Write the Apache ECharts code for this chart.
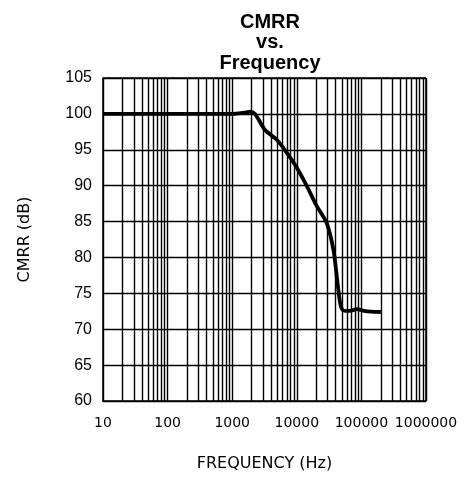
<!DOCTYPE html>
<html>
<head>
<meta charset="utf-8">
<script src="https://cdn.jsdelivr.net/npm/echarts@6/dist/echarts.min.js"></script>
<style>
  html, body { margin: 0; padding: 0; background: #fff; }
  #chart { width: 470px; height: 479px; }
</style>
</head>
<body>
<div id="chart"></div>
<script>
// CMRR measured against frequency
var frequencyHz = [10, 100, 1000, 1500, 1900, 2250, 3200, 4900, 6500, 9400, 14000, 20000, 29000, 37000, 42000, 46500, 50000, 56000, 70000, 85000, 110000, 140000, 200000];
var cmrrDb = [100, 100, 100, 100.15, 100.3, 100.0, 97.8, 96.4, 95.0, 92.9, 90.1, 87.3, 84.8, 81.0, 77.0, 73.8, 72.8, 72.55, 72.6, 72.8, 72.55, 72.45, 72.4];

var xTickLabels = ['10', '100', '1000', '10000', '100000', '1000000'];
var yTicks = [60, 65, 70, 75, 80, 85, 90, 95, 100, 105];

// minor grid lines at 2..9 within each decade
var minorFreqs = [];
[10, 100, 1000, 10000, 100000].forEach(function (d) {
  for (var m = 2; m <= 9; m++) minorFreqs.push(d * m);
});

var chart = echarts.init(document.getElementById('chart'));
chart.setOption({
  animation: false,
  backgroundColor: '#fff',
  title: {
    text: 'CMRR\nvs.\nFrequency',
    left: 265,
    textAlign: 'center',
    top: 7,
    textStyle: {
      fontFamily: 'Liberation Sans',
      fontWeight: 'bold',
      fontSize: 20,
      lineHeight: 20.5,
      color: '#000'
    }
  },
  grid: { left: 103, right: 44, top: 78, bottom: 78 },
  xAxis: {
    type: 'log',
    logBase: 10,
    min: 10,
    max: 1000000,
    name: 'FREQUENCY (Hz)',
    nameLocation: 'middle',
    nameGap: 55,
    nameTextStyle: { fontFamily: 'DejaVu Sans', fontSize: 16, color: '#000' },
    axisLine: { lineStyle: { color: '#000', width: 1.5 } },
    axisTick: { show: false },
    axisLabel: {
      margin: 15,
      fontFamily: 'DejaVu Sans',
      fontSize: 14,
      color: '#000',
      formatter: function (v) {
        var i = Math.round(Math.log10(v)) - 1;
        return xTickLabels[i] !== undefined ? xTickLabels[i] : '';
      }
    },
    splitLine: { show: true, lineStyle: { color: '#000', width: 1.4 } }
  },
  yAxis: {
    type: 'value',
    min: yTicks[0],
    max: yTicks[yTicks.length - 1],
    interval: 5,
    name: 'CMRR (dB)',
    nameLocation: 'middle',
    nameGap: 70,
    nameRotate: 90,
    nameTextStyle: { fontFamily: 'DejaVu Sans', fontSize: 16, color: '#000' },
    axisLine: { show: true, lineStyle: { color: '#000', width: 1.5 } },
    axisTick: { show: false },
    axisLabel: {
      margin: 11,
      fontFamily: 'Liberation Sans',
      fontSize: 16,
      color: '#000'
    },
    splitLine: { show: true, lineStyle: { color: '#000', width: 1.4 } }
  },
  series: [{
    type: 'line',
    data: frequencyHz.map(function (f, i) { return [f, cmrrDb[i]]; }),
    smooth: 0.25,
    showSymbol: false,
    lineStyle: { color: '#000', width: 3.8 },
    z: 5,
    markLine: {
      silent: true,
      symbol: 'none',
      label: { show: false },
      lineStyle: { color: '#000', width: 1.4, type: 'solid' },
      z: 1,
      data: minorFreqs.map(function (f) { return { xAxis: f }; })
    }
  }, {
    // right and top edges of the plot frame
    type: 'line',
    data: [],
    markLine: {
      silent: true,
      symbol: 'none',
      label: { show: false },
      lineStyle: { color: '#000', width: 1.5, type: 'solid' },
      data: [{ xAxis: 1000000 }, { yAxis: 105 }]
    }
  }]
});
</script>
</body>
</html>
